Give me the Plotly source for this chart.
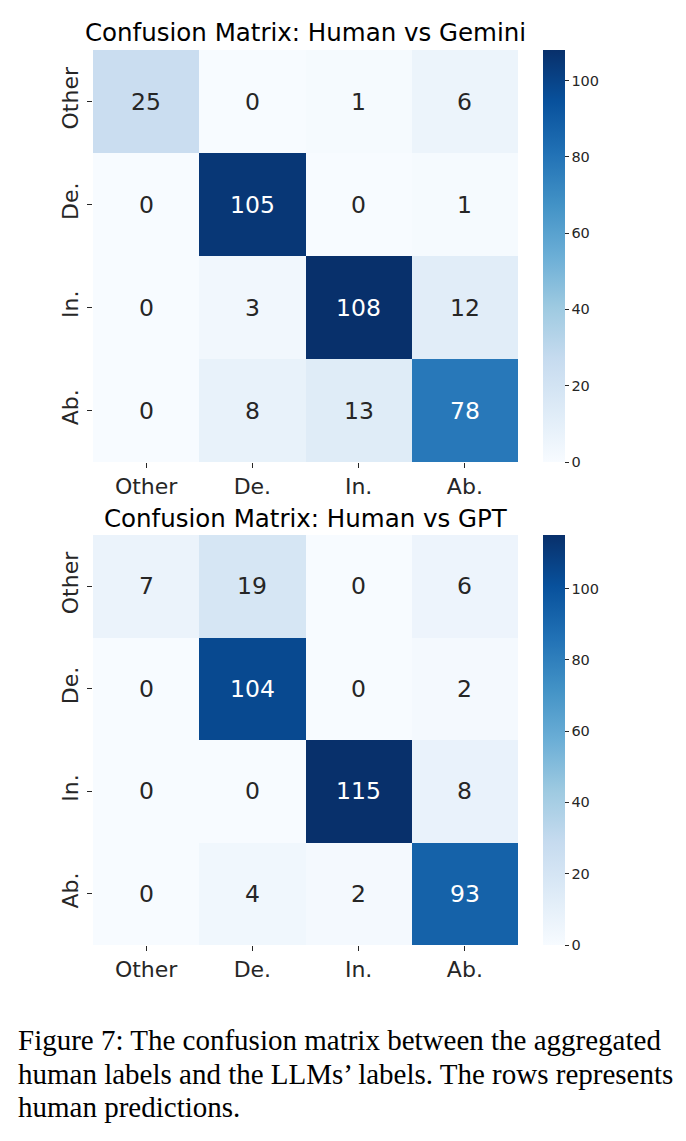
import plotly.graph_objects as go

W, H = 686, 1141
labels = ["Other", "De.", "In.", "Ab."]
gemini = [[25, 0, 1, 6],
          [0, 105, 0, 1],
          [0, 3, 108, 12],
          [0, 8, 13, 78]]
gpt = [[7, 19, 0, 6],
       [0, 104, 0, 2],
       [0, 0, 115, 8],
       [0, 4, 2, 93]]
titles = ["Confusion Matrix: Human vs Gemini", "Confusion Matrix: Human vs GPT"]
caption = ["Figure 7: The confusion matrix between the aggregated",
           "human labels and the LLMs\u2019 labels. The rows represents",
           "human predictions."]
cbar_ticks = [0, 20, 40, 60, 80, 100]

blues = ["#f7fbff", "#deebf7", "#c6dbef", "#9ecae1", "#6baed6",
         "#4292c6", "#2171b5", "#08519c", "#08306b"]
cscale = [[i / 8, c] for i, c in enumerate(blues)]

FONT = "DejaVu Sans"
TXT = "#262626"

def px_x(p):
    return p / W

def px_y(p):
    return 1 - p / H

# panel pixel geometry: (left, right, top, bottom)
panels = [(93, 518, 50, 462), (93, 518, 535, 945)]
title_y = [33, 518]

fig = go.Figure()
annotations = []
for i, (data, (l, r, t, b)) in enumerate(zip([gemini, gpt], panels)):
    xa = "x" if i == 0 else "x2"
    ya = "y" if i == 0 else "y2"
    zmax = max(max(row) for row in data)
    fig.add_trace(go.Heatmap(
        z=data, x=labels, y=labels, xaxis=xa, yaxis=ya,
        colorscale=cscale, zmin=0, zmax=zmax, hoverinfo="skip",
        colorbar=dict(
            x=px_x(543), xanchor="left", xref="paper", xpad=0, ypad=0,
            y=px_y((t + b) / 2), yanchor="middle",
            len=(b - t) / H, lenmode="fraction",
            thickness=22, thicknessmode="pixels",
            outlinewidth=0, tickvals=cbar_ticks,
            ticks="outside", ticklen=4, tickcolor=TXT,
            tickfont=dict(family=FONT, size=14.5, color=TXT),
        ),
    ))
    for ri, row in enumerate(data):
        for ci, v in enumerate(row):
            frac = v / zmax
            col = "white" if frac > 0.55 else TXT
            annotations.append(dict(
                x=labels[ci], y=labels[ri], xref=xa, yref=ya,
                text=str(v), showarrow=False,
                font=dict(family=FONT, size=23.5, color=col)))
    annotations.append(dict(
        x=px_x((l + r) / 2), y=px_y(title_y[i]), xref="paper", yref="paper",
        text=titles[i], showarrow=False, xanchor="center", yanchor="middle",
        font=dict(family=FONT, size=24.5, color="black")))
    axis_common = dict(showgrid=False, zeroline=False, showline=False,
                       ticks="outside", ticklen=5, tickcolor=TXT,
                       tickfont=dict(family=FONT, size=22, color=TXT),
                       fixedrange=True)
    fig.update_layout(**{
        ("xaxis" if i == 0 else "xaxis2"): dict(
            domain=[px_x(l), px_x(r)], anchor=ya, **axis_common),
        ("yaxis" if i == 0 else "yaxis2"): dict(
            domain=[px_y(b), px_y(t)], anchor=xa, autorange="reversed",
            tickangle=-90, **axis_common),
    })

cap_y = [1040, 1074, 1107]
for line, yy in zip(caption, cap_y):
    annotations.append(dict(
        x=px_x(16), y=px_y(yy), xref="paper", yref="paper", text=line,
        showarrow=False, xanchor="left", yanchor="middle",
        font=dict(family="Liberation Serif", size=29, color="black")))

fig.update_layout(
    width=W, height=H, margin=dict(l=0, r=0, t=0, b=0),
    paper_bgcolor="white", plot_bgcolor="white",
    annotations=annotations, showlegend=False,
)
fig.write_html("out.html")
